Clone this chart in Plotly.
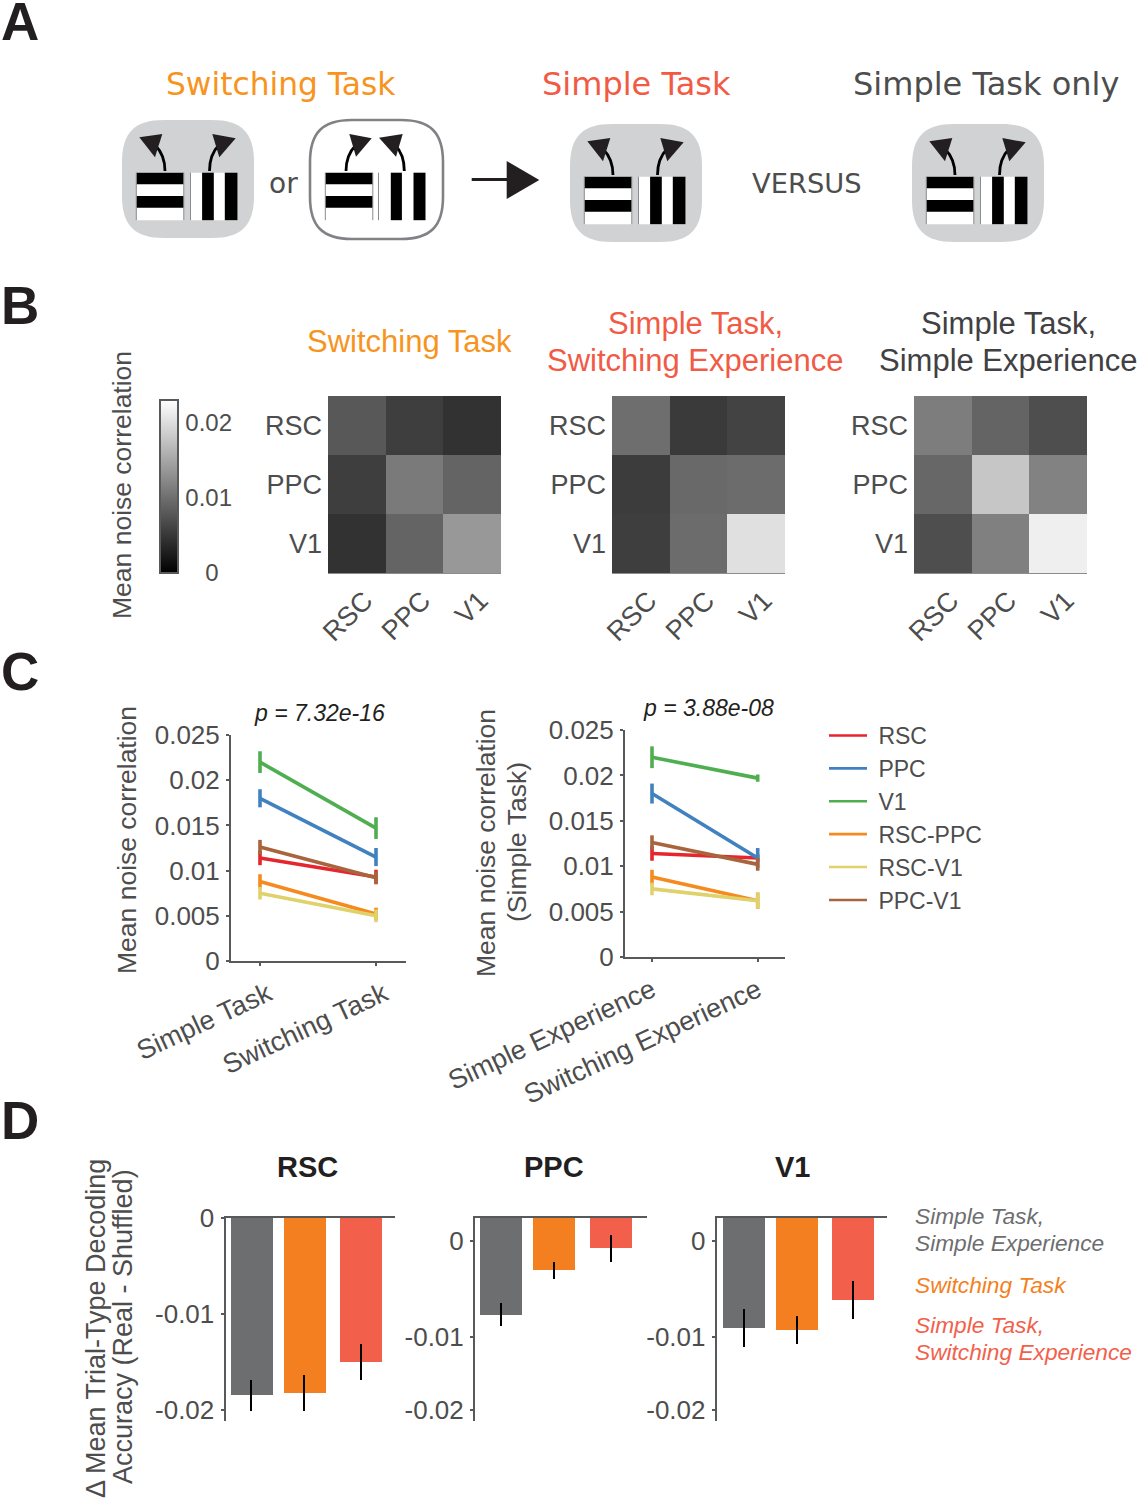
import plotly.graph_objects as go

W, H = 1138, 1500

# ---- data ----
areas = ["RSC", "PPC", "V1"]
matrix_switching = [[.0079, .0056, .0045], [.0056, .0110, .0090], [.0045, .0090, .0137]]
matrix_simple_switch = [[.0099, .0052, .0060], [.0054, .0095, .0097], [.0056, .0097, .0202]]
matrix_simple_simple = [[.0113, .0090, .0070], [.0093, .0179, .0117], [.0070, .0115, .0216]]
colorbar_ticks = [0, .01, .02]

pair_names = ["RSC", "PPC", "V1", "RSC-PPC", "RSC-V1", "PPC-V1"]
task_labels = ["Simple Task", "Switching Task"]
experience_labels = ["Simple Experience", "Switching Experience"]
task_values = [[.0114, .0093], [.0180, .0115], [.0220, .0147], [.0088, .0052], [.0075, .0050], [.0126, .0092]]
task_errors = [[.0008, .0008], [.0010, .0010], [.0012, .0012], [.0008, .0007], [.0007, .0007], [.0008, .0007]]
exp_values = [[.0114, .0109], [.0180, .0109], [.0220, .0197], [.0088, .0062], [.0075, .0062], [.0126, .0102]]
exp_errors = [[.0008, .0004], [.0011, .0011], [.0012, .0004], [.0008, .0009], [.0007, .0009], [.0008, .0007]]
c_ticks = [0, .005, .01, .015, .02, .025]
c_ticktext = ["0", "0.005", "0.01", "0.015", "0.02", "0.025"]

bar_groups = ["Simple Task, Simple Experience", "Switching Task", "Simple Task, Switching Experience"]
bar_x = [1, 2, 3.06]
rsc_bars = [-.0185, -.01827, -.01503]
rsc_errs = [.0016, .0019, .0019]
ppc_bars = [-.00766, -.00307, -.00076]
ppc_errs = [.0012, .0009, .0014]
v1_bars = [-.00906, -.00925, -.00617]
v1_errs = [.00196, .00146, .0020]

# ---- style ----
TXT = "#4d4d4d"
AX = "#58595b"
ARIAL = "Liberation Sans"
DEJA = "DejaVu Sans"
ORANGE_T = "#f7941d"
RED_T = "#f15a45"
line_colors = ["#e5262e", "#4081bf", "#4fae50", "#f58a1f", "#dfd26b", "#a8643c"]
bar_colors = ["#6d6e70", "#f47f20", "#f2604b"]


def fx(x):
    return x / W


def fy(y):
    return 1 - y / H


def dom_x(a, b):
    return [fx(a), fx(b)]


def dom_y(top, bottom):
    return [fy(bottom), fy(top)]


fig = go.Figure()
annotations = []
shapes = []


def text(x, y, s, size, color=TXT, family=ARIAL, anchor="center", angle=0, bold=False, italic=False):
    annotations.append(dict(
        x=fx(x), y=fy(y), xref="paper", yref="paper", text=s, showarrow=False,
        xanchor=anchor, yanchor="middle", textangle=angle,
        font=dict(size=size, color=color, family=family,
                  weight="bold" if bold else "normal",
                  style="italic" if italic else "normal"),
    ))


def P(x, y):
    return f"{fx(x):.5f},{fy(y):.5f}"


def rrect_path(x0, y0, x1, y1, r):
    return (f"M{P(x0 + r, y0)} L{P(x1 - r, y0)} C{P(x1 - r * .3, y0)} {P(x1, y0 + r * .3)} {P(x1, y0 + r)} "
            f"L{P(x1, y1 - r)} C{P(x1, y1 - r * .3)} {P(x1 - r * .3, y1)} {P(x1 - r, y1)} "
            f"L{P(x0 + r, y1)} C{P(x0 + r * .3, y1)} {P(x0, y1 - r * .3)} {P(x0, y1 - r)} "
            f"L{P(x0, y0 + r)} C{P(x0, y0 + r * .3)} {P(x0 + r * .3, y0)} {P(x0 + r, y0)} Z")


def add_path(path, fill="rgba(0,0,0,0)", line="rgba(0,0,0,0)", width=0):
    shapes.append(dict(type="path", xref="paper", yref="paper", path=path, fillcolor=fill,
                       line=dict(color=line, width=width)))


def add_rect(x0, y0, x1, y1, fill, line=None, width=0):
    shapes.append(dict(type="rect", xref="paper", yref="paper", x0=fx(x0), x1=fx(x1), y0=fy(y0), y1=fy(y1),
                       fillcolor=fill, line=dict(color=line or fill, width=width)))


def seg(x0, y0, x1, y1, color, width):
    shapes.append(dict(type="line", xref="paper", yref="paper", x0=fx(x0), x1=fx(x1), y0=fy(y0), y1=fy(y1),
                       line=dict(color=color, width=width)))


def grating_h(x0, y0):
    add_rect(x0, y0, x0 + 47.5, y0 + 47.5, "#ffffff")
    add_rect(x0, y0, x0 + 47.5, y0 + 11.6, "#000000")
    add_rect(x0, y0 + 23.4, x0 + 47.5, y0 + 35, "#000000")
    seg(x0, y0, x0, y0 + 47.5, "#8a8c8e", 1)
    seg(x0 + 47.5, y0, x0 + 47.5, y0 + 47.5, "#8a8c8e", 1)


def grating_v(x0, y0, outlined=False):
    add_rect(x0, y0, x0 + 47, y0 + 47.5, "#ffffff")
    if outlined:
        add_rect(x0 + 12.3, y0, x0 + 23.4, y0 + 47.5, "#000000")
        add_rect(x0 + 35, y0, x0 + 47, y0 + 47.5, "#000000")
    else:
        add_rect(x0 + 11.6, y0, x0 + 23.3, y0 + 47.5, "#000000")
        add_rect(x0 + 34.3, y0, x0 + 47, y0 + 47.5, "#000000")
    seg(x0, y0, x0, y0 + 47.5, "#8a8c8e", 1)


def arrow(curve, head):
    add_path(curve, line="#000000", width=2.8)
    add_path("M" + " L".join(P(*p) for p in head) + " Z", fill="#231f20")


def pictogram(dx, dy):
    add_path(rrect_path(122 + dx, 120 + dy, 254 + dx, 238 + dy, 42), fill="#d0d2d3")
    grating_h(136.3 + dx, 172.7 + dy)
    grating_v(190.5 + dx, 172.7 + dy)
    arrow(f"M{P(165 + dx, 171 + dy)} C{P(165 + dx, 160 + dy)} {P(162 + dx, 152 + dy)} {P(155 + dx, 145 + dy)}",
          [(139.3 + dx, 137.3 + dy), (162.3 + dx, 134 + dy), (155 + dx, 157.3 + dy)])
    arrow(f"M{P(209.5 + dx, 171 + dy)} C{P(209.5 + dx, 160 + dy)} {P(212 + dx, 152 + dy)} {P(219 + dx, 145 + dy)}",
          [(212.3 + dx, 134 + dy), (235.7 + dx, 138.3 + dy), (219.3 + dx, 157.3 + dy)])


pictogram(0, 0)
add_path(rrect_path(310, 120, 443, 239, 42), fill="#ffffff", line="#808285", width=2.6)
grating_h(325.3, 172.7)
grating_v(378.5, 172.7, outlined=True)
arrow(f"M{P(346, 171)} C{P(346, 160)} {P(349, 152)} {P(356, 145)}", [(349.3, 134), (371.7, 138.3), (356, 156.7)])
arrow(f"M{P(404.3, 171)} C{P(404.3, 160)} {P(402, 152)} {P(395, 145)}", [(379, 137.7), (402.7, 134), (396, 156.7)])
seg(471.7, 179.5, 507, 179.5, "#231f20", 3)
add_path("M" + " L".join(P(*p) for p in [(506.7, 161), (539.3, 180), (506.7, 199)]) + " Z", fill="#231f20")
pictogram(448, 4)
pictogram(790, 4)

# ---- panel A/B/C/D texts ----
for letter, y in zip("ABCD", [21, 305, 671, 1120]):
    text(20, y, letter, 53, color="#231f20", bold=True)
text(281, 84, "Switching Task", 31.3, ORANGE_T, DEJA)
text(636, 84, "Simple Task", 32, RED_T, DEJA)
text(986, 84, "Simple Task only", 32, TXT, DEJA)
text(283, 183, "or", 28, TXT, DEJA)
text(807, 183, "VERSUS", 27.3, TXT, DEJA)

text(409, 342, "Switching Task", 31, ORANGE_T)
text(695, 323, "Simple Task,", 31, RED_T)
text(695, 360, "Switching Experience", 31, RED_T)
text(1008, 323, "Simple Task,", 31, "#414042")
text(1008, 360, "Simple Experience", 31, "#414042")
text(122, 485, "Mean noise correlation", 26.5, angle=-90)

text(319, 713, "p = 7.32e-16", 23, "#231f20", italic=True)
text(708, 708, "p = 3.88e-08", 23, "#231f20", italic=True)
text(127, 840, "Mean noise correlation", 26.5, angle=-90)
text(486, 843, "Mean noise correlation", 26.5, angle=-90)
text(517, 842, "(Simple Task)", 26.5, angle=-90)

text(307, 1167, "RSC", 29, "#231f20", bold=True)
text(554, 1167, "PPC", 29, "#231f20", bold=True)
text(792, 1167, "V1", 29, "#231f20", bold=True)
text(96, 1329, "\u0394 Mean Trial-Type Decoding", 27, angle=-90)
text(123, 1327, "Accuracy (Real - Shuffled)", 27, angle=-90)
text(913, 1216, "Simple Task,", 22.7, "#6d6e70", anchor="left", italic=True)
text(913, 1243, "Simple Experience", 22.7, "#6d6e70", anchor="left", italic=True)
text(913, 1285, "Switching Task", 22.7, "#f47f20", anchor="left", italic=True)
text(913, 1325, "Simple Task,", 22.7, "#f2604b", anchor="left", italic=True)
text(913, 1352, "Switching Experience", 22.7, "#f2604b", anchor="left", italic=True)

layout = dict(
    width=W, height=H, margin=dict(l=0, r=0, t=0, b=0, autoexpand=False),
    paper_bgcolor="#ffffff", plot_bgcolor="rgba(0,0,0,0)",
    font=dict(family=ARIAL, color=TXT),
    bargap=0, barmode="overlay",
    coloraxis=dict(
        cmin=0, cmax=.023,
        colorscale=[[0, "#000000"], [1, "#ffffff"]],
        colorbar=dict(
            x=fx(160), xanchor="left", xpad=0, thickness=18,
            y=fy(400), yanchor="top", ypad=0, lenmode="pixels", len=173,
            outlinewidth=2, outlinecolor=AX, ticks="outside", ticklen=2, tickcolor="#ffffff",
            tickmode="array", tickvals=colorbar_ticks,
            ticktext=["\u00a0\u00a0\u00a00", "0.01", "0.02"],
            tickfont=dict(size=24, color=TXT, family=ARIAL),
        ),
    ),
    legend=dict(
        x=fx(824), xanchor="left", y=fy(714), yanchor="top",
        font=dict(size=23, color=TXT, family=ARIAL),
        bgcolor="rgba(0,0,0,0)", itemwidth=38, tracegroupgap=7.5,
        traceorder="normal", itemclick=False, itemdoubleclick=False,
    ),
)

# ---- panel B heatmaps ----
for i, (mat, x0) in enumerate(zip([matrix_switching, matrix_simple_switch, matrix_simple_simple], [328, 612, 914]), 1):
    sfx = "" if i == 1 else str(i)
    fig.add_trace(go.Heatmap(z=mat, x=areas, y=areas, coloraxis="coloraxis", xgap=0, ygap=0,
                             xaxis=f"x{sfx}", yaxis=f"y{sfx}"))
    layout[f"xaxis{sfx}"] = dict(
        domain=dom_x(x0, x0 + 173), anchor=f"y{sfx}", type="category", categoryorder="array", categoryarray=areas,
        tickangle=-45, ticks="", showline=True, linecolor="#8a8c8e", linewidth=1, showgrid=False, zeroline=False,
        tickfont=dict(size=27, color=TXT, family=ARIAL), ticklabelstandoff=0, ticklabelshift=8,
    )
    layout[f"yaxis{sfx}"] = dict(
        domain=dom_y(396, 573), anchor=f"x{sfx}", type="category", categoryorder="array", categoryarray=areas,
        autorange="reversed", ticks="", showline=False, showgrid=False, zeroline=False,
        tickfont=dict(size=27, color=TXT, family=ARIAL), ticklabelstandoff=5,
    )

# ---- panel C line plots ----


def line_axes(n, left, right, top, bottom, c1, c2, labels, shift):
    unit = c2 - c1
    layout[f"xaxis{n}"] = dict(
        domain=dom_x(left, right), anchor=f"y{n}", range=[1 - (c1 - left) / unit, 1 + (right - c1) / unit],
        tickmode="array", tickvals=[1, 2], ticktext=labels, tickangle=-25,
        ticks="outside", ticklen=3, tickcolor=AX, tickwidth=1.5,
        showline=True, linecolor=AX, linewidth=2, showgrid=False, zeroline=False,
        tickfont=dict(size=27, color=TXT, family=ARIAL), ticklabelstandoff=2, ticklabelshift=shift,
    )
    layout[f"yaxis{n}"] = dict(
        domain=dom_y(top, bottom), anchor=f"x{n}", range=[0, .025],
        tickmode="array", tickvals=c_ticks, ticktext=c_ticktext,
        ticks="outside", ticklen=3, tickcolor=AX, tickwidth=1.5,
        showline=True, linecolor=AX, linewidth=2, showgrid=False, zeroline=False,
        tickfont=dict(size=26, color=TXT, family=ARIAL), ticklabelstandoff=1,
    )


line_axes(4, 231, 406, 735, 961, 260, 376, task_labels, 8)
line_axes(5, 625, 785, 730, 957, 652, 757.7, experience_labels, 0)

for k, name in enumerate(pair_names):
    fig.add_trace(go.Scatter(
        x=[1, 2], y=task_values[k], mode="lines", name=name, legendgroup=name, showlegend=False,
        line=dict(color=line_colors[k], width=3.6), xaxis="x4", yaxis="y4",
        error_y=dict(type="data", array=task_errors[k], visible=True, color=line_colors[k], thickness=3.6, width=0),
    ))
for k, name in enumerate(pair_names):
    fig.add_trace(go.Scatter(
        x=[1, 2], y=exp_values[k], mode="lines", name=name, legendgroup=name, showlegend=False,
        line=dict(color=line_colors[k], width=3.6), xaxis="x5", yaxis="y5",
        error_y=dict(type="data", array=exp_errors[k], visible=True, color=line_colors[k], thickness=3.6, width=0),
    ))
# legend keys (thinner than the plotted lines, as in the figure)
for k, name in enumerate(pair_names):
    fig.add_trace(go.Scatter(
        x=[None], y=[None], mode="lines", name="\u00a0" + name, legendgroup=name, showlegend=True,
        line=dict(color=line_colors[k], width=2.6), xaxis="x4", yaxis="y4",
    ))

# ---- panel D bars ----


def bar_panel(n, vals, errs, left, right, top, bottom, scale, y0_px, c1, c3, tickvals):
    unit = (c3 - c1) / (bar_x[2] - bar_x[0])
    top_val = (y0_px - top) / scale
    bot_val = -(bottom - y0_px) / scale
    fig.add_trace(go.Bar(
        x=bar_x, y=[v - top_val for v in vals], base=top_val, width=42 / unit,
        marker=dict(color=bar_colors, line=dict(width=0)), showlegend=False, text=None,
        customdata=bar_groups, xaxis=f"x{n}", yaxis=f"y{n}",
        error_y=dict(type="data", array=errs, visible=True, color="#000000", thickness=2, width=0),
    ))
    layout[f"xaxis{n}"] = dict(
        domain=dom_x(left, right), anchor=f"y{n}", side="top",
        range=[bar_x[0] - (c1 - left) / unit, bar_x[0] + (right - c1) / unit],
        showticklabels=False, ticks="", showline=True, linecolor=AX, linewidth=2, showgrid=False, zeroline=False,
    )
    layout[f"yaxis{n}"] = dict(
        domain=dom_y(top, bottom), anchor=f"x{n}", range=[bot_val, top_val],
        tickmode="array", tickvals=tickvals, ticktext=["0", "-0.01", "-0.02"],
        ticks="outside", ticklen=3, tickcolor=AX, tickwidth=1.5,
        showline=True, linecolor=AX, linewidth=2, showgrid=False, zeroline=False,
        tickfont=dict(size=26, color=TXT, family=ARIAL), ticklabelstandoff=1,
    )


bar_panel(6, rsc_bars, rsc_errs, 225.5, 395, 1218, 1420.7, 9580, 1218, 251.3, 360.5, [0, -.01, -.02])
bar_panel(7, ppc_bars, ppc_errs, 475, 646.7, 1218, 1420.7, 9600, 1241, 501, 610.5, [0, -.01, -.0176])
bar_panel(8, v1_bars, v1_errs, 716.7, 886.7, 1218, 1420.7, 9600, 1241, 743.5, 852.7, [0, -.01, -.0176])

layout["annotations"] = annotations
layout["shapes"] = shapes
fig.update_layout(**layout)
fig.write_html("out.html", config={"displayModeBar": False}, post_script="document.body.style.margin='0';")
